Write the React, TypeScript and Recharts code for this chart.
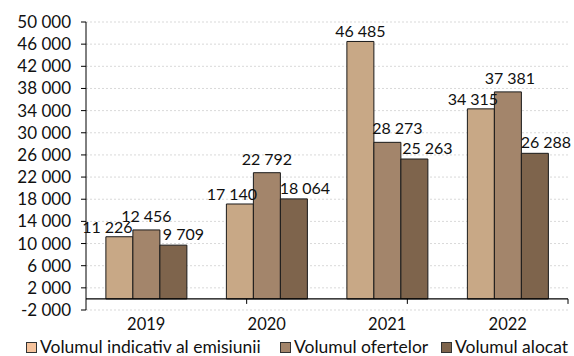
import React from 'react';
import {
  BarChart,
  Bar,
  XAxis,
  YAxis,
  CartesianGrid,
  Legend,
  LabelList,
  ReferenceLine
} from 'recharts';

const YEARS = ['2019', '2020', '2021', '2022'];
const INDICATIV = [11226, 17140, 46485, 34315];
const OFERTE = [12456, 22792, 28273, 37381];
const ALOCAT = [9709, 18064, 25263, 26288];
const Y_TICKS = [-2000, 2000, 6000, 10000, 14000, 18000, 22000, 26000, 30000, 34000, 38000, 42000, 46000, 50000];
const EDGE_TICKS = [1, 2, 3, 4];

const SERIES = [
  { key: 'indicativ', name: 'Volumul indicativ al emisiunii', fill: '#c8a886', legend: '#f6c39c', lift: 4 },
  { key: 'oferte', name: 'Volumul ofertelor', fill: '#a3856b', legend: '#a3856b', lift: 8 },
  { key: 'alocat', name: 'Volumul alocat', fill: '#7e644c', legend: '#7e644c', lift: 5 }
];

// horizontal nudge of each value label from its bar centre (Excel placed them by hand)
const LABEL_DX: Record<string, number[]> = {
  indicativ: [-12, -8, 0, -8],
  oferte: [0, 0, 10, 2],
  alocat: [10, 11, 13, 11]
};

const data = YEARS.map((year, i) => ({
  year,
  indicativ: INDICATIV[i],
  oferte: OFERTE[i],
  alocat: ALOCAT[i]
}));

const fmt = (n: number) => {
  const s = Math.abs(n).toString().replace(/\B(?=(\d{3})+(?!\d))/g, ' ');
  return (n < 0 ? '-' : '') + s;
};

const makeLabel = (key: string, lift: number) => (props: any) => {
  const { x, y, width, index, value } = props;
  const cx = Number(x) + Number(width) / 2 + LABEL_DX[key][index];
  return (
    <text x={cx} y={Number(y) - lift} textAnchor="middle" fontSize={16} fill="#111">
      {fmt(value)}
    </text>
  );
};

const LegendContent = () => {
  const widths = [254, 161, 130];
  return (
    <div style={{ display: 'flex', paddingLeft: 26, height: 18, lineHeight: '18px', alignItems: 'center', fontSize: 17.5, color: '#111', whiteSpace: 'nowrap' }}>
      {SERIES.map((s, i) => (
        <div key={s.key} style={{ display: 'flex', alignItems: 'center', width: widths[i] }}>
          <span style={{ width: 9, height: 9, background: s.legend, border: '1px solid #333', marginRight: 3, display: 'inline-block' }} />
          <span>{s.name}</span>
        </div>
      ))}
    </div>
  );
};

export default function App() {
  return (
    <div style={{ position: 'absolute', left: 0, top: 0, width: 574, height: 356, background: '#fff', fontFamily: 'Lato, sans-serif' }}>
      <BarChart
        width={574}
        height={356}
        data={data}
        margin={{ top: 22, right: 6, left: 6, bottom: 0 }}
        barCategoryGap="16.5%"
        barGap={0}
      >
        <CartesianGrid vertical={false} stroke="#d9d9d9" strokeDasharray="2 2" />
        <XAxis
          dataKey="year"
          axisLine={false}
          tickLine={false}
          height={28}
          tick={{ fontSize: 16.5, fill: '#111' }}
        />
        <XAxis xAxisId="edge" type="number" domain={[0, 4]} hide />
        <YAxis
          domain={[-2000, 50000]}
          ticks={Y_TICKS}
          interval={0}
          width={80}
          tickSize={5}
          tickMargin={10}
          axisLine={{ stroke: '#000' }}
          tickLine={{ stroke: '#000' }}
          tick={{ fontSize: 17, fill: '#111' }}
          tickFormatter={fmt}
        />
        <ReferenceLine y={0} stroke="#000" strokeWidth={1.2} />
        {EDGE_TICKS.map(t => (
          <ReferenceLine
            key={t}
            xAxisId="edge"
            segment={[{ x: t, y: 0 }, { x: t, y: -900 }]}
            stroke="#000"
          />
        ))}
        {SERIES.map(s => (
          <Bar key={s.key} dataKey={s.key} name={s.name} fill={s.fill} stroke="#1a1a1a" strokeWidth={1} isAnimationActive={false}>
            <LabelList dataKey={s.key} content={makeLabel(s.key, s.lift)} />
          </Bar>
        ))}
        <Legend verticalAlign="bottom" height={18} wrapperStyle={{ left: 0, width: 574 }} content={<LegendContent />} />
      </BarChart>
    </div>
  );
}
